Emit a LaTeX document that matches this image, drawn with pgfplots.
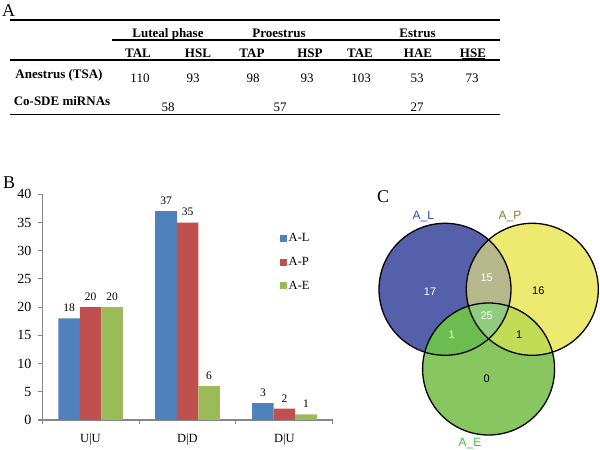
\documentclass[border=0pt]{standalone}
\usepackage{fontspec}
\setmainfont{Liberation Serif}
\newfontfamily\arial{Liberation Sans}
\usepackage{pgfplots}
\pgfplotsset{compat=1.18}
\definecolor{barblue}{HTML}{4F81BD}
\definecolor{barred}{HTML}{C0504D}
\definecolor{bargreen}{HTML}{9BBB59}
\definecolor{axisgray}{HTML}{868686}
\definecolor{vL}{HTML}{5560AA}
\definecolor{vP}{HTML}{EEEA70}
\definecolor{vE}{HTML}{88C660}
\definecolor{vLP}{HTML}{B5B88A}
\definecolor{vLE}{HTML}{6CBD50}
\definecolor{vPE}{HTML}{C2DC55}
\definecolor{vC}{HTML}{8FCC80}
\definecolor{lblL}{HTML}{2A47B0}
\definecolor{lblP}{HTML}{7F7F2E}
\definecolor{lblE}{HTML}{3CC03C}
\begin{document}
\begin{tikzpicture}[x=1pt,y=1pt]
\path[use as bounding box] (0,0) rectangle (600,450);
% ---------------- Panel A ----------------
\node[anchor=base west,inner sep=0,font=\fontsize{18}{18}\selectfont] at (2,433.3) {A};
\draw[line width=1.4pt] (10,430) -- (500,430);
\draw[line width=1.1pt] (112,410) -- (500,410);
\draw[line width=1.1pt] (10,390) -- (500,390);
\draw[line width=1.4pt] (10,335.7) -- (500,335.7);
\draw[line width=0.7pt] (462,391.6) -- (484.5,391.6);
\begin{scope}[every node/.style={anchor=base,inner sep=0,font=\fontsize{13}{13}\selectfont}]
\node[font=\bfseries\fontsize{13}{13}\selectfont] at (168,412.7) {Luteal phase};
\node[font=\bfseries\fontsize{13}{13}\selectfont] at (279,412.7) {Proestrus};
\node[font=\bfseries\fontsize{13}{13}\selectfont] at (417.5,412.7) {Estrus};
\node[font=\bfseries\fontsize{13}{13}\selectfont] at (138,392.7) {TAL};
\node[font=\bfseries\fontsize{13}{13}\selectfont] at (198,392.7) {HSL};
\node[font=\bfseries\fontsize{13}{13}\selectfont] at (252,392.7) {TAP};
\node[font=\bfseries\fontsize{13}{13}\selectfont] at (310,392.7) {HSP};
\node[font=\bfseries\fontsize{13}{13}\selectfont] at (360,392.7) {TAE};
\node[font=\bfseries\fontsize{13}{13}\selectfont] at (418,392.7) {HAE};
\node[font=\bfseries\fontsize{13}{13}\selectfont] at (473,392.7) {HSE};
\node[font=\bfseries\fontsize{13}{13}\selectfont] at (59,371.7) {Anestrus (TSA)};
\node[font=\bfseries\fontsize{13}{13}\selectfont] at (62,344) {Co-SDE miRNAs};
\node at (140,367.7) {110};
\node at (193,367.7) {93};
\node at (253,367.7) {98};
\node at (307,367.7) {93};
\node at (361,367.7) {103};
\node at (417,367.7) {53};
\node at (472,367.7) {73};
\node at (168,338.3) {58};
\node at (280,338.3) {57};
\node at (417,338.3) {27};
\end{scope}
% ---------------- Panel B ----------------
\node[anchor=base west,inner sep=0,font=\fontsize{18}{18}\selectfont] at (3,261) {B};
\begin{axis}[
  at={(42pt,30pt)}, anchor=south west,
  scale only axis, width=291pt, height=225.7pt,
  xmin=0, xmax=3, ymin=0, ymax=40,
  ytick={0,5,...,40},
  xtick={0,1,2,3}, xticklabels={},
  extra x ticks={0.5,1.5,2.5},
  extra x tick labels={U|U,D|D,D|U},
  extra x tick style={major tick length=0pt},
  axis x line*=bottom, axis y line*=left,
  axis line style={draw=axisgray, line width=1pt, -},
  tick style={draw=axisgray, line width=1pt},
  tick align=outside, major tick length=4pt,
  /pgf/number format/assume math mode=true,
  tick label style={font=\fontsize{14}{14}\selectfont},
  yticklabel style={xshift=-3pt},
  xticklabel style={font=\fontsize{12.5}{12.5}\selectfont, yshift=-10pt},
  ybar=0pt, bar width=21.5pt,
  nodes near coords,
  every node near coord/.append style={font=\fontsize{11.5}{11.5}\selectfont, yshift=3pt, text=black},
  legend style={at={(0.818,0.834)}, anchor=north west, draw=none, fill=none,
    font=\fontsize{12.5}{12.5}\selectfont, row sep=11pt, inner sep=0pt,
    nodes={inner sep=1.5pt}},
  legend cell align=left,
  legend image code/.code={\fill[#1] (0pt,-3.5pt) rectangle (7pt,3.5pt);},
]
\addplot[fill=barblue, draw=none] coordinates {(0.5,18) (1.5,37) (2.5,3)};
\addplot[fill=barred, draw=none] coordinates {(0.5,20) (1.5,35) (2.5,2)};
\addplot[fill=bargreen, draw=none] coordinates {(0.5,20) (1.5,6) (2.5,1)};
\legend{A-L,A-P,A-E}
\end{axis}
% ---------------- Panel C ----------------
\node[anchor=base west,inner sep=0,font=\fontsize{18}{18}\selectfont] at (377,247.5) {C};
\coordinate (L) at (445,160.7);
\coordinate (P) at (532.3,160.7);
\coordinate (E) at (488.6,81);
\fill[vL] (L) circle[radius=66pt];
\fill[vP] (P) circle[radius=66pt];
\fill[vE] (E) circle[radius=66pt];
\begin{scope}\clip (L) circle[radius=66pt]; \fill[vLP] (P) circle[radius=66pt];\end{scope}
\begin{scope}\clip (L) circle[radius=66pt]; \fill[vLE] (E) circle[radius=66pt];\end{scope}
\begin{scope}\clip (P) circle[radius=66pt]; \fill[vPE] (E) circle[radius=66pt];\end{scope}
\begin{scope}\clip (L) circle[radius=66pt]; \clip (P) circle[radius=66pt]; \fill[vC] (E) circle[radius=66pt];\end{scope}
\draw[line width=1.3pt] (L) circle[radius=66pt];
\draw[line width=1.3pt] (P) circle[radius=66pt];
\draw[line width=1.3pt] (E) circle[radius=66pt];
\begin{scope}[every node/.style={inner sep=0,font=\arial\fontsize{11}{11}\selectfont}]
\node[white] at (430,158.3) {17};
\node[white] at (486.7,172.7) {15};
\node[black] at (538.3,159) {16};
\node[white] at (486.7,134) {25};
\node[white] at (451.7,115) {1};
\node[black] at (519.3,115) {1};
\node[black] at (486.7,71.7) {0};
\end{scope}
\begin{scope}[every node/.style={inner sep=0,font=\arial\fontsize{12}{12}\selectfont}]
\node[lblL] at (423.3,233.3) {A\_L};
\node[lblP] at (510,233.3) {A\_P};
\node[lblE] at (470,6.7) {A\_E};
\end{scope}
\end{tikzpicture}
\end{document}
